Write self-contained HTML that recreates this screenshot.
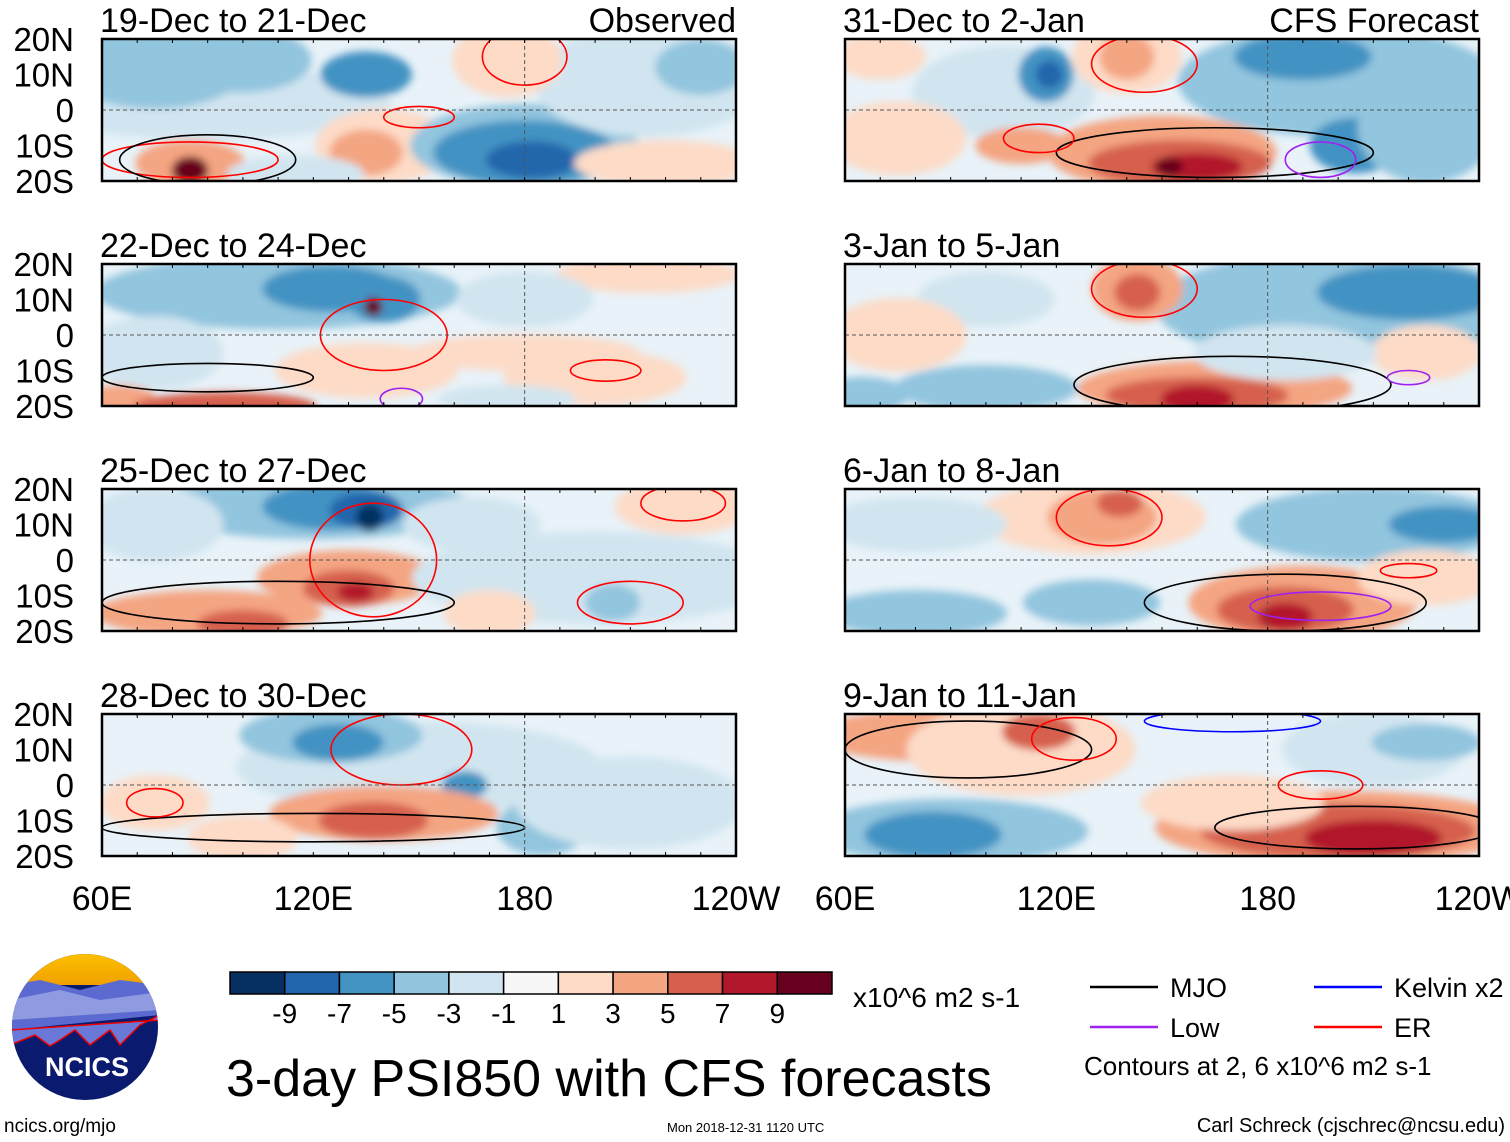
<!DOCTYPE html>
<html><head><meta charset="utf-8"><style>
html,body{margin:0;padding:0;background:#fff;}
svg{display:block;font-family:"Liberation Sans",Arial,sans-serif;}
</style></head><body>
<svg id="fig" width="1510" height="1142" viewBox="0 0 1510 1142" xmlns="http://www.w3.org/2000/svg">
<defs>
<filter id="blur" x="-20%" y="-50%" width="140%" height="200%"><feGaussianBlur stdDeviation="4"/></filter>
<linearGradient id="sky" x1="0" y1="0" x2="0" y2="1"><stop offset="0" stop-color="#ffc400"/><stop offset="1" stop-color="#f0a000"/></linearGradient>
<clipPath id="logoclip"><circle cx="85" cy="1027" r="73"/></clipPath>
</defs>
</svg>
<script>
// ---- data ----
const levels = [-9,-7,-5,-3,-1,0,1,3,5,7,9];
const levelColors = ['#053061','#2166ac','#4393c3','#92c5de','#d1e5f0','#f7f7f7','#fddbc7','#f4a582','#d6604d','#b2182b','#67001f'];
const tickLabels = ['-9','-7','-5','-3','-1','1','3','5','7','9'];
const lonTicks = [60,120,180,240];
const lonTickLabels = ['60E','120E','180','120W'];
const latTicks = [20,10,0,-10,-20];
const latTickLabels = ['20N','10N','0','10S','20S'];
const panelTitles = ['19-Dec to 21-Dec','22-Dec to 24-Dec','25-Dec to 27-Dec','28-Dec to 30-Dec','31-Dec to 2-Jan','3-Jan to 5-Jan','6-Jan to 8-Jan','9-Jan to 11-Jan'];
// anomaly blobs: [level, lon, lat, halfWidthDeg, halfHeightDeg]
const panel1 = [[-1,90,2,40,8],[-3,75,12,20,9],[-3,100,14,15,7],[-5,135,10,10,5],[1,140,-10,15,8],[3,135,-12,8,5],[3,85,-15,12,5],[9,85,-17,4,3],[-3,180,-10,25,9],[-5,180,-12,20,7],[-7,182,-14,10,4],[-1,215,8,25,12],[-3,230,12,10,6],[1,175,14,12,8],[1,220,-15,20,5],[-1,115,-18,15,4]];
const panel2 = [[-3,110,12,40,8],[-5,125,13,15,5],[-5,140,10,8,5],[9,137,8,2,2],[-1,75,-5,15,8],[1,135,-10,20,6],[3,65,-18,8,3],[5,95,-20,20,3],[1,180,-5,25,4],[1,200,-12,20,6],[1,215,17,20,4],[-1,180,10,15,6],[-1,175,-18,15,3]];
const panel3 = [[-3,120,15,35,7],[-5,125,15,15,5],[-7,135,14,8,4],[-9,136,12,3,3],[-1,75,10,15,8],[3,130,-5,20,6],[5,130,-8,10,4],[7,132,-9,4,2],[3,90,-15,25,5],[5,100,-18,10,3],[-1,200,-5,40,10],[-3,205,-12,6,4],[1,225,15,15,6],[-1,165,10,15,6],[1,170,-15,10,5]];
const panel4 = [[-1,150,5,40,10],[-3,125,14,20,6],[-5,127,12,10,4],[-5,163,0,5,3],[3,140,-8,25,6],[5,137,-10,12,4],[-3,185,-12,10,6],[-1,210,-5,25,10],[1,75,-5,12,6],[1,100,-15,12,5]];
const panel5 = [[-1,105,5,20,10],[-5,117,10,6,6],[-7,118,10,3,3],[1,75,-8,15,8],[3,110,-10,10,4],[3,150,-12,25,8],[5,155,-15,20,5],[7,160,-16,10,3],[9,152,-16,3,2],[1,140,15,12,8],[3,140,15,6,5],[-3,200,8,35,12],[-5,190,15,15,5],[-5,205,-10,10,6],[-3,225,-5,15,12],[1,70,15,10,5]];
const panel6 = [[-3,200,8,40,12],[-5,220,12,20,6],[-1,100,10,15,6],[3,143,13,10,7],[5,143,12,5,4],[1,75,0,15,8],[-3,65,-17,10,4],[-3,100,-15,20,5],[3,165,-15,30,6],[5,160,-17,20,4],[7,160,-18,8,3],[1,225,-5,12,6],[-1,185,-5,20,6]];
const panel7 = [[1,130,12,25,8],[3,133,12,12,6],[5,138,16,5,3],[-1,80,10,20,6],[-3,210,10,30,8],[-5,230,10,12,4],[-3,80,-15,20,5],[-3,130,-12,15,5],[3,190,-12,25,8],[5,185,-14,15,5],[7,185,-16,6,3],[1,225,-5,15,6]];
const panel8 = [[3,95,14,35,6],[1,110,10,25,10],[5,115,15,8,4],[-3,90,-13,30,7],[-5,85,-14,15,5],[3,200,-12,40,8],[5,200,-13,30,6],[7,210,-15,15,4],[-1,210,10,20,8],[-3,225,12,12,4],[1,170,-5,20,6]];
const panels = [panel1,panel2,panel3,panel4,panel5,panel6,panel7,panel8];
// contours: [type, lon, lat, halfWidthDeg, halfHeightDeg]
const contours1 = [['er',85,-14,25,5],['er',150,-2,10,3],['mjo',90,-14,25,7],['er',180,15,12,8]];
const contours2 = [['er',140,0,18,10],['mjo',90,-12,30,4],['er',203,-10,10,3],['low',145,-18,6,3]];
const contours3 = [['er',137,0,18,16],['mjo',110,-12,50,6],['er',210,-12,15,6],['er',225,16,12,5]];
const contours4 = [['er',145,10,20,10],['mjo',120,-12,60,4],['er',75,-5,8,4]];
const contours5 = [['er',145,13,15,8],['mjo',165,-12,45,7],['er',115,-8,10,4],['low',195,-14,10,5]];
const contours6 = [['er',145,13,15,8],['mjo',170,-14,45,8],['low',220,-12,6,2]];
const contours7 = [['er',135,12,15,8],['mjo',185,-12,40,8],['er',220,-3,8,2],['low',195,-13,20,4]];
const contours8 = [['mjo',95,10,35,8],['er',125,13,12,6],['er',195,0,12,4],['mjo',205,-12,40,6],['kel',170,18,25,3]];
const contourSets = [contours1,contours2,contours3,contours4,contours5,contours6,contours7,contours8];

// ---- layout ----
const NS='http://www.w3.org/2000/svg';
const svg=document.getElementById('fig');
function mk(tag,attrs,parent){const e=document.createElementNS(NS,tag);for(const k in attrs)e.setAttribute(k,attrs[k]);(parent||svg).appendChild(e);return e;}
const colX=[102,845], rowY=[39,264,489,714], PW=634, PH=142;
const contourColor={er:'#ff0000',mjo:'#000000',low:'#a020f0',kel:'#0000ff'};
function colorFor(v){return levelColors[levels.indexOf(v)];}

panels.forEach((blobs,i)=>{
  const x0=colX[i<4?0:1], y0=rowY[i%4];
  const xs=lon=>x0+(lon-60)/180*PW;
  const ys=lat=>y0+(20-lat)/40*PH;
  const g=mk('g',{});
  
  
  const cp=mk('clipPath',{id:'cp'+i},svg.querySelector('defs'));
  mk('rect',{x:x0,y:y0,width:PW,height:PH},cp);
  const inner=mk('g',{'clip-path':'url(#cp'+i+')'},g);
  mk('rect',{x:x0,y:y0,width:PW,height:PH,fill:'#e8f2f8'},inner);
  const bg=mk('g',{filter:'url(#blur)'},inner);
  blobs.forEach(b=>{
    const el=mk('ellipse',{cx:xs(b[1]),cy:ys(b[2]),rx:b[3]*1.3/180*PW,ry:b[4]*1.3/40*PH,fill:colorFor(b[0])},bg);
    
    
  });
  contourSets[i].forEach(c=>{
    const el=mk('ellipse',{cx:xs(c[1]),cy:ys(c[2]),rx:c[3]/180*PW,ry:c[4]/40*PH,fill:'none',stroke:contourColor[c[0]],'stroke-width':1.6},inner);
    
    
  });
  mk('line',{x1:x0,x2:x0+PW,y1:ys(0),y2:ys(0),stroke:'#555','stroke-width':1,'stroke-dasharray':'4,3'},inner);
  mk('line',{x1:xs(180),x2:xs(180),y1:y0,y2:y0+PH,stroke:'#555','stroke-width':1,'stroke-dasharray':'4,3'},inner);
  mk('rect',{x:x0,y:y0,width:PW,height:PH,fill:'none',stroke:'#000','stroke-width':2.5},g);
  for(let l=60;l<=240;l+=10){mk('line',{x1:xs(l),x2:xs(l),y1:y0,y2:y0+4,stroke:'#000'},g);mk('line',{x1:xs(l),x2:xs(l),y1:y0+PH,y2:y0+PH-4,stroke:'#000'},g);}
  const t=mk('text',{x:x0-2,y:y0-7,'font-size':34,fill:'#000'},g);t.textContent=panelTitles[i];
  
  
  if(i===0){const o=mk('text',{x:x0+PW,y:y0-7,'font-size':34,'text-anchor':'end'},g);o.textContent='Observed';}
  if(i===4){const o=mk('text',{x:x0+PW,y:y0-7,'font-size':34,'text-anchor':'end'},g);o.textContent='CFS Forecast';}
  if(i<4){latTicks.forEach((la,k)=>{
    const lt=mk('text',{x:x0-28,y:ys(la)+12,'font-size':33,'text-anchor':'end'},g);
    lt.textContent=latTickLabels[k];
    
    
  });}
  if(i%4===3){lonTicks.forEach((lo,k)=>{
    const lt=mk('text',{x:xs(lo),y:910,'font-size':34,'text-anchor':'middle'},g);
    lt.textContent=lonTickLabels[k];
    
    
  });}
});

// colorbar
const cb=mk('g',{});


const cbx=230,cbw=602,cby=972,cbh=22,bw=cbw/levelColors.length;
levelColors.forEach((c,k)=>mk('rect',{x:cbx+k*bw,y:cby,width:bw,height:cbh,fill:c,stroke:'#000','stroke-width':1.5},cb));
tickLabels.forEach((s,k)=>{const t=mk('text',{x:cbx+(k+1)*bw,y:1023,'font-size':28,'text-anchor':'middle'},cb);t.textContent=s;});
const u=mk('text',{x:853,y:1007,'font-size':28},cb);u.textContent='x10^6 m2 s-1';

// legend
const lg=mk('g',{});


[['MJO','#000',1090,987],['Low','#a020f0',1090,1027],['Kelvin x2','#0000ff',1314,987],['ER','#ff0000',1314,1027]].forEach(e=>{
  mk('line',{x1:e[2],x2:e[2]+68,y1:e[3],y2:e[3],stroke:e[1],'stroke-width':2.5},lg);
  const t=mk('text',{x:e[2]+80,y:e[3]+10,'font-size':27},lg);t.textContent=e[0];
});
const ct=mk('text',{x:1084,y:1075,'font-size':26},lg);ct.textContent='Contours at 2, 6 x10^6 m2 s-1';

// title & footer
const tt=mk('text',{x:226,y:1096,'font-size':52});tt.textContent='3-day PSI850 with CFS forecasts';

const f1=mk('text',{x:4,y:1132,'font-size':19});f1.textContent='ncics.org/mjo';
const f2=mk('text',{x:667,y:1132,'font-size':13});f2.textContent='Mon 2018-12-31 1120 UTC';
const f3=mk('text',{x:1505,y:1132,'font-size':20,'text-anchor':'end'});f3.textContent='Carl Schreck (cjschrec@ncsu.edu)';

// logo
const lo=mk('g',{'clip-path':'url(#logoclip)'});

mk('rect',{x:10,y:950,width:150,height:160,fill:'#0a1a6e'},lo);
mk('rect',{x:10,y:950,width:150,height:35,fill:'url(#sky)'},lo);
mk('path',{d:'M10 985 L40 980 L80 990 L120 980 L160 985 L160 1015 L10 1030Z',fill:'#5a6ad0'},lo);
mk('path',{d:'M10 1000 L60 990 L100 1000 L160 992 L160 1010 L10 1020Z',fill:'#8f9ae0'},lo);
mk('path',{d:'M10 1045 L35 1035 L50 1046 L60 1040 L75 1030 L90 1045 L110 1030 L120 1045 L140 1025 L160 1015 L160 1020 L10 1030Z',fill:'#6a78d8',stroke:'#e00','stroke-width':1.5},lo);
const lt=mk('text',{x:87,y:1076,'font-size':27,'font-weight':'bold','text-anchor':'middle',fill:'#fff'});lt.textContent='NCICS';
</script>
</body></html>
